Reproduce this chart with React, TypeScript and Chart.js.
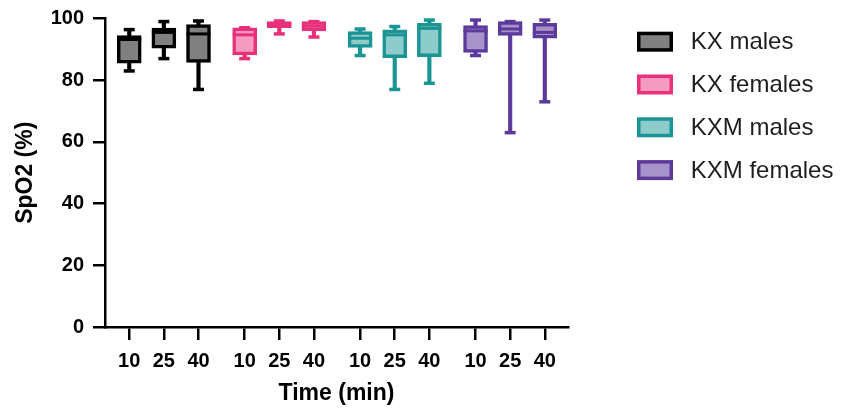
import React, { useEffect, useRef } from 'react';
import { Chart, registerables } from 'chart.js';

Chart.register(...registerables);

// ---- data ----
const groupNames = ['KX males', 'KX females', 'KXM males', 'KXM females'];
const timeLabels = ['10', '25', '40'];

// rows: groups, columns: time points (10, 25, 40 min)
const minValues = [
  [83, 87, 77],
  [87, 95, 94],
  [88, 77, 79],
  [88, 63, 73],
];
const q1Values = [
  [85.5, 90.4, 85.8],
  [88.2, 97, 96],
  [90.6, 87.3, 87.6],
  [89, 94.5, 93.6],
];
const medianValues = [
  [93.2, 95.5, 95],
  [94.7, 98, 97.5],
  [93.6, 94.7, 96.8],
  [96, 96.6, 95.5],
];
const q3Values = [
  [94.5, 96.9, 98],
  [97, 99, 99],
  [95.8, 96.3, 98.4],
  [97.7, 99, 98.4],
];
const maxValues = [
  [96.4, 99, 99.2],
  [97, 99.2, 99],
  [96.6, 97.4, 99.5],
  [99.5, 99, 99.5],
];

const yTickValues = [0, 20, 40, 60, 80, 100];

// ---- styles ----
const borderColors = ['#000000', '#e8307b', '#1b9494', '#5b3a9c'];
const fillColors = ['#808080', '#f59bc1', '#8ecbcb', '#a793c9'];
const FONT = '"Liberation Sans", Arial, Helvetica, sans-serif';

const groupStride = 10 / 3;
const xPos = (g: number, i: number) => g * groupStride + i;
const tickPositions: number[] = [];
groupNames.forEach((_, g) => timeLabels.forEach((__, i) => tickPositions.push(xPos(g, i))));

const sideLegend = {
  id: 'sideLegend',
  afterDraw(chart: any) {
    const ctx = chart.ctx as CanvasRenderingContext2D;
    const boxLeft = chart.chartArea.right + 70.75;
    ctx.save();
    groupNames.forEach((name, g) => {
      const cy = 41.7 + g * 42.8;
      ctx.fillStyle = fillColors[g];
      ctx.strokeStyle = borderColors[g];
      ctx.lineWidth = 3.5;
      ctx.fillRect(boxLeft, cy - 8.25, 32.5, 16.5);
      ctx.strokeRect(boxLeft, cy - 8.25, 32.5, 16.5);
      ctx.fillStyle = '#1e1e1e';
      ctx.font = `24px ${FONT}`;
      ctx.textBaseline = 'middle';
      ctx.textAlign = 'left';
      ctx.fillText(name, boxLeft + 52, cy + 1);
    });
    ctx.restore();
  },
};

export default function App() {
  const canvasRef = useRef<HTMLCanvasElement | null>(null);

  useEffect(() => {
    document.body.style.margin = '0';
    const canvas = canvasRef.current;
    if (!canvas) return;

    const datasets: any[] = [];
    groupNames.forEach((name, g) => {
      const idx = timeLabels.map((_, i) => i);
      datasets.push({
        type: 'bar',
        label: '',
        data: idx.map((i) => ({ x: xPos(g, i), y: [minValues[g][i], maxValues[g][i]] })),
        backgroundColor: borderColors[g],
        borderWidth: 0,
        barThickness: 3.5,
        grouped: false,
        order: 3,
        clip: false,
      });
      datasets.push({
        type: 'bar',
        label: name,
        data: idx.map((i) => ({ x: xPos(g, i), y: [q1Values[g][i], q3Values[g][i]] })),
        backgroundColor: fillColors[g],
        borderColor: borderColors[g],
        borderWidth: 3.5,
        borderSkipped: false,
        barThickness: 24,
        grouped: false,
        order: 2,
        clip: false,
      });
      datasets.push({
        type: 'scatter',
        label: '',
        data: idx.map((i) => ({ x: xPos(g, i), y: medianValues[g][i] })),
        pointStyle: 'line',
        pointRadius: 12,
        pointBorderWidth: 3,
        pointBorderColor: borderColors[g],
        pointBackgroundColor: borderColors[g],
        order: 1,
        clip: false,
      });
      datasets.push({
        type: 'scatter',
        label: '',
        data: idx.flatMap((i) => [
          { x: xPos(g, i), y: minValues[g][i] },
          { x: xPos(g, i), y: maxValues[g][i] },
        ]),
        pointStyle: 'line',
        pointRadius: 5.5,
        pointBorderWidth: 3.5,
        pointBorderColor: borderColors[g],
        pointBackgroundColor: borderColors[g],
        order: 1,
        clip: false,
      });
    });

    const chart = new Chart(canvas, {
      type: 'bar',
      data: { datasets },
      plugins: [sideLegend],
      options: {
        responsive: false,
        animation: false,
        events: [],
        devicePixelRatio: 1,
        layout: { padding: { left: 0, top: 0, right: 274, bottom: 0 } },
        plugins: {
          legend: { display: false },
          tooltip: { enabled: false },
          title: { display: false },
        },
        scales: {
          x: {
            type: 'linear',
            min: -0.7,
            max: 12.67,
            offset: false,
            afterBuildTicks: (scale: any) => {
              scale.ticks = tickPositions.map((v) => ({ value: v }));
            },
            afterFit: (scale: any) => {
              scale.height = 85;
            },
            ticks: {
              autoSkip: false,
              maxRotation: 0,
              padding: 9,
              color: '#000',
              font: { family: FONT, size: 20, weight: 'bold' },
              callback: (_v: any, i: number) => timeLabels[i % timeLabels.length],
            },
            grid: {
              offset: false,
              drawOnChartArea: false,
              drawTicks: true,
              tickLength: 13,
              color: '#000',
              lineWidth: 2.5,
            },
            border: { display: true, color: '#000', width: 2.5 },
            title: {
              display: true,
              text: 'Time (min)',
              color: '#000',
              font: { family: FONT, size: 23, weight: 'bold' },
              padding: { top: 0, bottom: 5 },
            },
          },
          y: {
            type: 'linear',
            min: 0,
            max: 100,
            afterBuildTicks: (scale: any) => {
              scale.ticks = yTickValues.map((v) => ({ value: v }));
            },
            afterFit: (scale: any) => {
              scale.width = 105;
              scale.paddingTop = 18.5;
              scale.paddingBottom = 0;
            },
            ticks: {
              padding: 9,
              color: '#000',
              font: { family: FONT, size: 20, weight: 'bold' },
            },
            grid: {
              drawOnChartArea: false,
              drawTicks: true,
              tickLength: 12,
              color: '#000',
              lineWidth: 2.5,
            },
            border: { display: true, color: '#000', width: 2.5 },
            title: {
              display: true,
              text: 'SpO2 (%)',
              color: '#000',
              font: { family: FONT, size: 23, weight: 'bold' },
              padding: { top: 12, bottom: 0 },
            },
          },
        },
      } as any,
    });

    return () => chart.destroy();
  }, []);

  return (
    <div style={{ position: 'absolute', left: 0, top: 0, width: 842, height: 412, background: '#fff' }}>
      <canvas ref={canvasRef} width={842} height={412} style={{ display: 'block' }} />
    </div>
  );
}
